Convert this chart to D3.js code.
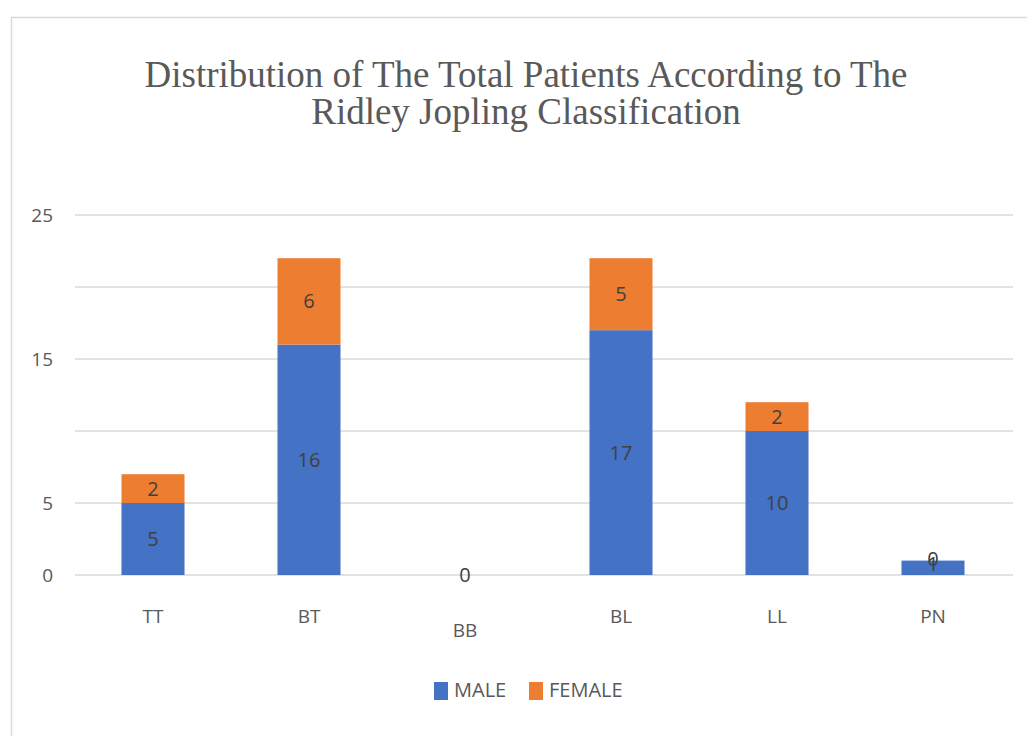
<!DOCTYPE html>
<html>
<head>
<meta charset="utf-8">
<script src="https://cdn.jsdelivr.net/npm/d3@7"></script>
<style>
  body { margin: 0; background: #fff; }
  svg { display: block; }
</style>
</head>
<body>
<div id="chart"></div>
<script>
const categories = ["TT", "BT", "BB", "BL", "LL", "PN"];
const male = [5, 16, 0, 17, 10, 1];
const female = [2, 6, 0, 5, 2, 0];
const gridValues = [0, 5, 10, 15, 20, 25];
const tickLabels = [0, 5, 15, 25];
const titleLines = ["Distribution of The Total Patients According to The", "Ridley Jopling Classification"];

const svg = d3.select("#chart")
    .append("svg")
        .attr("width", 1027)
        .attr("height", 736);

// outer chart frame
svg.append("rect")
    .attr("x", 11.5)
    .attr("y", 17.5)
    .attr("width", 1040)
    .attr("height", 740)
    .attr("fill", "#fff")
    .attr("stroke", "#d9d9d9")
    .attr("stroke-width", 1.5);

svg.append("text")
    .attr("x", 526)
    .attr("y", 87)
    .attr("text-anchor", "middle")
    .attr("font-family", "'Liberation Serif', 'Times New Roman', serif")
    .attr("font-size", "37px")
    .attr("fill", "#595959")
    .selectAll("tspan")
    .data(titleLines)
    .enter()
    .append("tspan")
        .attr("x", 526)
        .attr("dy", (d, i) => i === 0 ? 0 : 37)
        .text(d => d);

const x = d3.scaleBand()
    .domain(categories)
    .range([75, 1011])
    .paddingInner(0.596)
    .paddingOuter(0.298);

const y = d3.scaleLinear()
    .domain([0, 25])
    .range([575, 215]);

// gridlines
svg.append("g")
    .selectAll("line")
    .data(gridValues)
    .enter()
    .append("line")
        .attr("x1", 75)
        .attr("x2", 1013)
        .attr("y1", d => y(d))
        .attr("y2", d => y(d))
        .attr("stroke", "#d9d9d9")
        .attr("stroke-width", 1.5);

// y axis labels (only some are shown)
const yAxis = svg.append("g")
    .attr("transform", "translate(53, 0)")
    .call(d3.axisLeft(y).tickValues(tickLabels).tickSize(0).tickPadding(0));
yAxis.select(".domain").remove();
yAxis.selectAll("text")
    .attr("font-family", "'Open Sans', sans-serif")
    .attr("font-size", "19px")
    .attr("fill", "#595959");

const rows = categories.map((c, i) => ({cat: c, male: male[i], female: female[i]}));
const stacked = d3.stack().keys(["male", "female"])(rows);
const colors = {male: "#4472C4", female: "#ED7D31"};

const layers = svg.selectAll(".layer")
    .data(stacked)
    .enter()
    .append("g")
        .attr("fill", d => colors[d.key]);

layers.selectAll("rect")
    .data(d => d)
    .enter()
    .append("rect")
        .attr("x", d => x(d.data.cat))
        .attr("y", d => y(d[1]))
        .attr("width", x.bandwidth())
        .attr("height", d => y(d[0]) - y(d[1]));

// data labels
stacked.forEach(layer => {
    svg.append("g")
        .selectAll("text")
        .data(layer.filter(d => !(layer.key === "female" && d.data.cat === "BB")))
        .enter()
        .append("text")
            .attr("x", d => x(d.data.cat) + x.bandwidth() / 2)
            .attr("y", d => {
                let cy = (y(d[0]) + y(d[1])) / 2;
                if (d.data.cat === "PN") cy += layer.key === "female" ? -2 : -4;
                return cy;
            })
            .attr("dy", "0.35em")
            .attr("text-anchor", "middle")
            .attr("font-family", "'Open Sans', sans-serif")
            .attr("font-size", "20px")
            .attr("fill", "#404040")
            .text(d => d.data[layer.key]);
});

// x axis labels
const xAxis = svg.append("g")
    .attr("transform", "translate(0, 575)")
    .call(d3.axisBottom(x).tickSize(0).tickPadding(0));
xAxis.select(".domain").remove();
xAxis.selectAll("text")
    .attr("y", d => d === "BB" ? 62 : 48)
    .attr("dy", "0")
    .attr("font-family", "'Open Sans', sans-serif")
    .attr("font-size", "19px")
    .attr("fill", "#595959");

// legend
const legendItems = [
    {name: "MALE", key: "male", x: 434},
    {name: "FEMALE", key: "female", x: 529}
];
const legend = svg.append("g");
legend.selectAll("rect")
    .data(legendItems)
    .enter()
    .append("rect")
        .attr("x", d => d.x)
        .attr("y", 682)
        .attr("width", 14)
        .attr("height", 18)
        .attr("fill", d => colors[d.key]);
legend.selectAll("text")
    .data(legendItems)
    .enter()
    .append("text")
        .attr("x", d => d.x + 20)
        .attr("y", 697)
        .attr("font-family", "'Open Sans', sans-serif")
        .attr("font-size", "20px")
        .attr("fill", "#595959")
        .text(d => d.name);
</script>
</body>
</html>
